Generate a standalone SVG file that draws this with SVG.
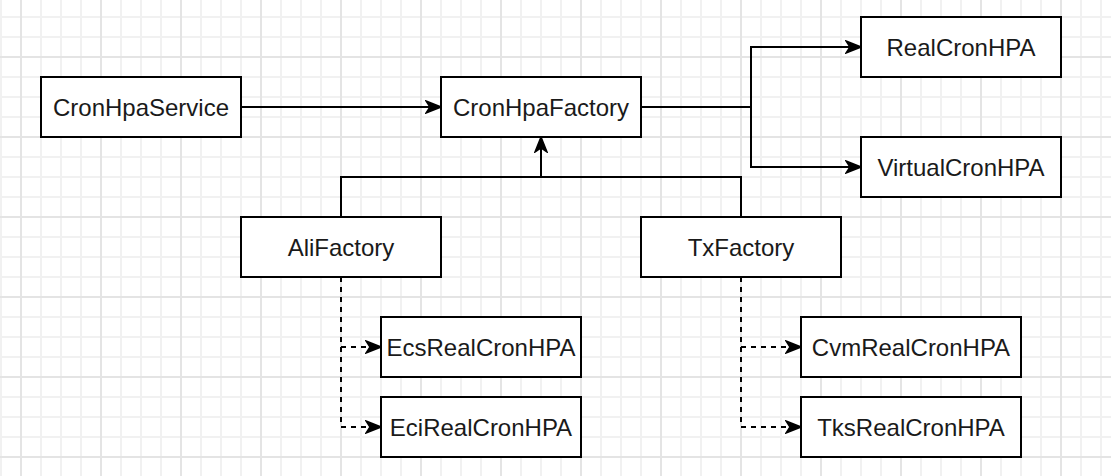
<svg xmlns="http://www.w3.org/2000/svg" width="1111" height="476" viewBox="0 0 1111 476">
<defs>
<marker id="arr" viewBox="0 0 17 14" refX="16" refY="7" markerWidth="17" markerHeight="14" markerUnits="userSpaceOnUse" orient="auto">
<path d="M1 1L16 7L1 13L5 7Z" fill="#000" stroke="#000" stroke-width="1.5" stroke-linejoin="miter"/>
</marker>
</defs>
<style>
.node rect{fill:#fff;stroke:#000;stroke-width:2}
.node text{font-family:"Liberation Sans",Arial,sans-serif;font-size:24px;fill:#1a1a1a;text-anchor:middle}
.edge{fill:none;stroke:#000;stroke-width:2}
.dash{stroke-dasharray:5 5}
</style>
<rect width="1111" height="476" fill="#fff"/>
<g id="gridlines" stroke-width="2" fill="none">
<path stroke="#f1f1f1" d="M1 0V476M41 0V476M61 0V476M81 0V476M121 0V476M141 0V476M161 0V476M201 0V476M221 0V476M241 0V476M281 0V476M301 0V476M321 0V476M361 0V476M381 0V476M401 0V476M441 0V476M461 0V476M481 0V476M521 0V476M541 0V476M561 0V476M601 0V476M621 0V476M641 0V476M681 0V476M701 0V476M721 0V476M761 0V476M781 0V476M801 0V476M841 0V476M861 0V476M881 0V476M921 0V476M941 0V476M961 0V476M1001 0V476M1021 0V476M1041 0V476M1081 0V476M1101 0V476M0 17H1111M0 37H1111M0 77H1111M0 97H1111M0 117H1111M0 157H1111M0 177H1111M0 197H1111M0 237H1111M0 257H1111M0 277H1111M0 317H1111M0 337H1111M0 357H1111M0 397H1111M0 417H1111M0 437H1111"/>
<path stroke="#e4e4e4" d="M21 0V476M101 0V476M181 0V476M261 0V476M341 0V476M421 0V476M501 0V476M581 0V476M661 0V476M741 0V476M821 0V476M901 0V476M981 0V476M1061 0V476M0 57H1111M0 137H1111M0 217H1111M0 297H1111M0 377H1111M0 457H1111"/>
</g>
<g id="connectors">
<path class="edge" d="M241 107H441" marker-end="url(#arr)"/>
<path class="edge" d="M641 107H751V47H861" marker-end="url(#arr)"/>
<path class="edge" d="M751 107V167H861" marker-end="url(#arr)"/>
<path class="edge" d="M341 217V177H741V217"/>
<path class="edge" d="M541 177V137" marker-end="url(#arr)"/>
<path class="edge dash" d="M341 277V347H381" marker-end="url(#arr)"/>
<path class="edge dash" d="M341 347V427H381" marker-end="url(#arr)"/>
<path class="edge dash" d="M741 277V347H801" marker-end="url(#arr)"/>
<path class="edge dash" d="M741 347V427H801" marker-end="url(#arr)"/>
</g>
<g id="CronHpaService" class="node"><rect x="41" y="77" width="200" height="60"/><text x="141" y="116">CronHpaService</text></g>
<g id="CronHpaFactory" class="node"><rect x="441" y="77" width="200" height="60"/><text x="541" y="116">CronHpaFactory</text></g>
<g id="RealCronHPA" class="node"><rect x="861" y="17" width="200" height="60"/><text x="961" y="56">RealCronHPA</text></g>
<g id="VirtualCronHPA" class="node"><rect x="861" y="137" width="200" height="60"/><text x="961" y="176">VirtualCronHPA</text></g>
<g id="AliFactory" class="node"><rect x="241" y="217" width="200" height="60"/><text x="341" y="256">AliFactory</text></g>
<g id="TxFactory" class="node"><rect x="641" y="217" width="200" height="60"/><text x="741" y="256">TxFactory</text></g>
<g id="EcsRealCronHPA" class="node"><rect x="381" y="317" width="200" height="60"/><text x="481" y="356">EcsRealCronHPA</text></g>
<g id="EciRealCronHPA" class="node"><rect x="381" y="397" width="200" height="60"/><text x="481" y="436">EciRealCronHPA</text></g>
<g id="CvmRealCronHPA" class="node"><rect x="801" y="317" width="220" height="60"/><text x="911" y="356">CvmRealCronHPA</text></g>
<g id="TksRealCronHPA" class="node"><rect x="801" y="397" width="220" height="60"/><text x="911" y="436">TksRealCronHPA</text></g>
</svg>
